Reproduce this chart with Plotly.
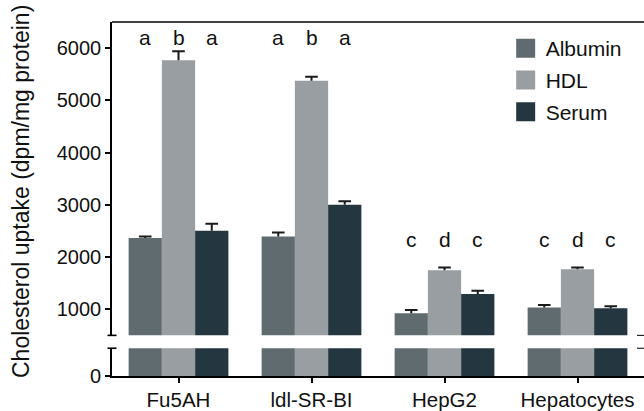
import plotly.graph_objects as go

# ---------------- data ----------------
categories = ["Fu5AH", "ldl-SR-BI", "HepG2", "Hepatocytes"]
series_names = ["Albumin", "HDL", "Serum"]
albumin = [2365, 2395, 925, 1035]
albumin_err = [30, 75, 60, 45]
hdl = [5770, 5375, 1745, 1765]
hdl_err = [170, 75, 55, 35]
serum = [2505, 3000, 1290, 1020]
serum_err = [130, 70, 65, 35]
letters_albumin = ["a", "a", "c", "c"]
letters_hdl = ["b", "b", "d", "d"]
letters_serum = ["a", "a", "c", "c"]
y_ticks_upper = [1000, 2000, 3000, 4000, 5000, 6000]
y_ticks_lower = [0]

# ---------------- style ----------------
colors = ["#606b70", "#989ea1", "#243640"]
ERR_COLOR = "#1a1a1a"
FONT = "Liberation Sans, Arial, Helvetica, sans-serif"
LETTER_ROW = [6205, 6205, 2345, 2345]
LOWER_TOP = 0.0784
UPPER_BOTTOM = 0.1148
BARGAP = 0.25

values = [albumin, hdl, serum]
errors = [albumin_err, hdl_err, serum_err]
letters = [letters_albumin, letters_hdl, letters_serum]
positions = list(range(len(categories)))
n_series = len(series_names)
slot = (1 - BARGAP) / n_series
offsets = [(s - (n_series - 1) / 2) * slot for s in range(n_series)]

fig = go.Figure()
for name, vals, errs, col in zip(series_names, values, errors, colors):
    # upper panel bars with upward error stems
    fig.add_trace(go.Bar(
        x=positions, y=vals, name=name, marker=dict(color=col, line=dict(width=0)),
        error_y=dict(type="data", array=errs, arrayminus=[0] * len(errs), symmetric=False,
                     width=0, thickness=2, color=ERR_COLOR),
        xaxis="x", yaxis="y2", showlegend=False,
    ))
    # lower panel bars
    fig.add_trace(go.Bar(
        x=positions, y=vals, name=name, marker=dict(color=col, line=dict(width=0)),
        xaxis="x", yaxis="y", showlegend=False,
    ))

# error caps (top only)
for s, (vals, errs) in enumerate(zip(values, errors)):
    fig.add_trace(go.Scatter(
        x=[p + offsets[s] for p in positions], y=[v + e for v, e in zip(vals, errs)],
        mode="markers", marker=dict(symbol="line-ew", size=9, line=dict(color=ERR_COLOR, width=2)),
        xaxis="x", yaxis="y2", showlegend=False, hoverinfo="skip",
    ))

# legend entries
for name, col in zip(series_names, colors):
    fig.add_trace(go.Scatter(
        x=[None], y=[None], name=name, mode="markers",
        marker=dict(symbol="square", size=16, color=col, line=dict(color=col, width=3)),
        xaxis="x", yaxis="y2", showlegend=True, legendgroup=name,
    ))

annotations = []
for s, off in enumerate(offsets):
    for i in positions:
        annotations.append(dict(
            x=i + off, y=LETTER_ROW[i], xref="x", yref="y2", text=letters[s][i],
            showarrow=False, font=dict(family=FONT, size=21, color="#111"),
            xanchor="center", yanchor="middle",
        ))

lw = 1.6
shapes = [
    dict(type="line", xref="paper", yref="paper", x0=0, x1=1, y0=1, y1=1,
         line=dict(color="black", width=lw)),
    dict(type="line", xref="paper", yref="paper", xsizemode="pixel", xanchor=0,
         x0=-4.5, x1=4.5, y0=UPPER_BOTTOM, y1=UPPER_BOTTOM, line=dict(color="black", width=lw)),
    dict(type="line", xref="paper", yref="paper", xsizemode="pixel", xanchor=0,
         x0=-4.5, x1=4.5, y0=LOWER_TOP, y1=LOWER_TOP, line=dict(color="black", width=lw)),
    dict(type="line", xref="paper", yref="paper", xsizemode="pixel", xanchor=1,
         x0=-7, x1=0, y0=UPPER_BOTTOM, y1=UPPER_BOTTOM, line=dict(color="black", width=1)),
    dict(type="line", xref="paper", yref="paper", xsizemode="pixel", xanchor=1,
         x0=-7, x1=0, y0=LOWER_TOP, y1=LOWER_TOP, line=dict(color="black", width=1)),
]

fig.update_layout(
    width=644, height=411,
    margin=dict(l=112, r=0, t=22, b=32),
    paper_bgcolor="white", plot_bgcolor="white",
    barmode="group", bargap=BARGAP, bargroupgap=0,
    font=dict(family=FONT, size=20, color="#111"),
    xaxis=dict(
        range=[-0.5, 3.5], anchor="y",
        tickvals=positions, ticktext=categories,
        showline=True, linecolor="black", linewidth=lw,
        ticks="outside", ticklen=5, tickwidth=lw, tickcolor="black",
        tickfont=dict(family=FONT, size=20.5, color="#111"),
        showgrid=False, zeroline=False,
    ),
    yaxis=dict(
        domain=[0, LOWER_TOP], range=[0, 530], anchor="x",
        tickvals=y_ticks_lower, ticktext=[str(v) for v in y_ticks_lower],
        showline=True, linecolor="black", linewidth=lw,
        ticks="outside", ticklen=5, tickwidth=lw, tickcolor="black",
        tickfont=dict(family=FONT, size=20, color="#111"),
        showgrid=False, zeroline=False,
    ),
    yaxis2=dict(
        domain=[UPPER_BOTTOM, 1], range=[500, 6500], anchor="x",
        tickvals=y_ticks_upper, ticktext=[str(v) for v in y_ticks_upper],
        showline=True, linecolor="black", linewidth=lw,
        ticks="outside", ticklen=5, tickwidth=lw, tickcolor="black",
        tickfont=dict(family=FONT, size=20, color="#111"),
        showgrid=False, zeroline=False,
    ),
    legend=dict(
        x=0.74, y=0.983, xanchor="left", yanchor="top",
        font=dict(family=FONT, size=21, color="#111"),
        bgcolor="rgba(0,0,0,0)", traceorder="grouped", tracegroupgap=1.5,
    ),
    annotations=annotations + [dict(
        text="Cholesterol uptake (dpm/mg protein)", textangle=-90,
        xref="paper", yref="paper", x=0, y=0.5, xshift=-91, yshift=7,
        xanchor="center", yanchor="middle", showarrow=False,
        font=dict(family=FONT, size=23, color="#111"),
    )],
    shapes=shapes,
)

fig.write_html("out.html")
